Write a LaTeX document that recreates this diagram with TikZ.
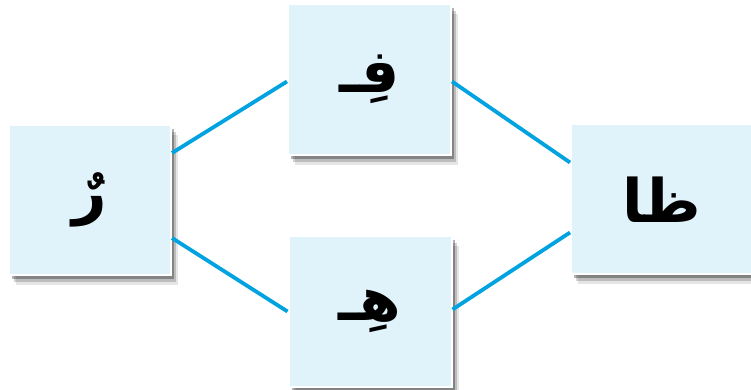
\documentclass[tikz,border=0pt]{standalone}
\usepackage{fontspec}
\newfontfamily\arabicfont[Script=Arabic]{DejaVu Sans}
\TeXXeTstate=1
\usetikzlibrary{positioning,shadows}
\definecolor{boxblue}{RGB}{224,242,250}
\definecolor{lineblue}{RGB}{0,163,224}
\tikzset{
letterbox/.style={
  rectangle,
  draw=white,
  line width=2pt,
  fill=boxblue,
  minimum width=162pt,
  minimum height=150pt,
  inner sep=0pt,
  font=\arabicfont\bfseries\fontsize{60}{70}\selectfont,
  drop shadow={shadow xshift=7pt, shadow yshift=-10pt, fill=black, opacity=0.1},
  drop shadow={shadow xshift=5pt, shadow yshift=-7pt, fill=black, opacity=0.18},
  drop shadow={shadow xshift=3pt, shadow yshift=-4pt, fill=black, opacity=0.3},
  }
}
\tikzset{
linkline/.style={
  line width=3.8pt,
  draw=lineblue,
  }
}

\begin{document}
\begin{tikzpicture}[x=1pt,y=1pt]
    \useasboundingbox (0,0) rectangle (751,390);

    % letter boxes
    \node[letterbox] (ra) at (90,190) {\beginR رٌ\endR};
    \node[letterbox, minimum width=163pt, minimum height=151pt] (fa) at (369.5,310.5) {\beginR فِـ\endR};
    \node[letterbox, minimum width=163pt, minimum height=151pt] (ha) at (370,78.5) {\beginR هِـ\endR};
    \node[letterbox, minimum width=182pt] (zha) at (662,190.5) {\beginR ظا\endR};

    % links
    \draw[linkline] ([yshift=47]ra.east) -- ([yshift=-2]fa.west);
    \draw[linkline] ([yshift=-2]fa.east) -- ([yshift=37]zha.west);
    \draw[linkline] ([yshift=-38]ra.east) -- ([yshift=0]ha.west);
    \draw[linkline] ([yshift=2]ha.east) -- ([yshift=-33]zha.west);
\end{tikzpicture}
\end{document}
